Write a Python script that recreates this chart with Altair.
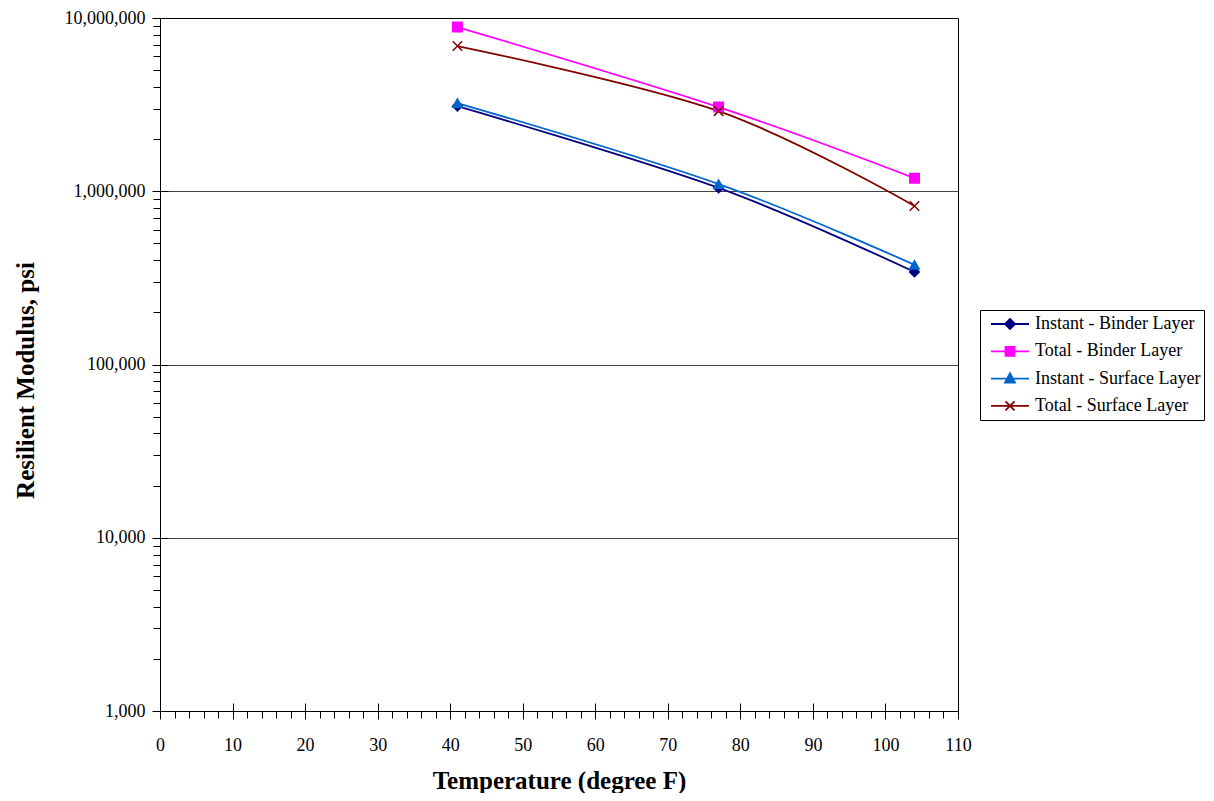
import altair as alt
import pandas as pd

# ---- data ----
temps = [41, 77, 104]
series_names = [
    "Instant - Binder Layer",
    "Total - Binder Layer",
    "Instant - Surface Layer",
    "Total - Surface Layer",
]
instant_binder = [3100000, 1045000, 342000]
total_binder = [8870000, 3060000, 1190000]
instant_surface = [3230000, 1100000, 376000]
total_surface = [6890000, 2900000, 822000]

colors = ["#000080", "#FF00FF", "#0066CC", "#800000"]
shapes = ["diamond", "square", "triangle-up", "M-1,-1L1,1M-1,1L1,-1"]

y_major = [1000, 10000, 100000, 1000000, 10000000]
y_minor = [k * 10 ** e for e in range(3, 7) for k in range(2, 10)]
x_major = list(range(0, 111, 10))
x_minor = list(range(0, 111, 2))

rows = []
for name, vals in zip(series_names, [instant_binder, total_binder, instant_surface, total_surface]):
    for t, v in zip(temps, vals):
        rows.append({"series": name, "temp": t, "value": v})
df = pd.DataFrame(rows)

FONT = "Liberation Serif"

# ---- legend symbols: line through a marker (unit = 19 px) ----
U = 19.0


def f(v):
    return f"{v / U:.3f}"


def hatch(halfwidth_at, y0, y1, step=1.2):
    parts = []
    y = y0
    while y <= y1 + 1e-9:
        w = halfwidth_at(y)
        if w > 0:
            parts.append(f"M{f(-w)},{f(y)}H{f(w)}")
        y += step
    return "".join(parts)


line_part = "M-1,0H1"
diamond_sym = line_part + hatch(lambda y: 5.0 - abs(y), -4.5, 4.5) + \
    f"M0,{f(-5)}L{f(5)},0L0,{f(5)}L{f(-5)},0Z"
square_sym = line_part + hatch(lambda y: 4.5, -4.5, 4.5) + \
    f"M{f(-4.5)},{f(-4.5)}H{f(4.5)}V{f(4.5)}H{f(-4.5)}Z"
triangle_sym = line_part + hatch(lambda y: 5.0 * (y + 5.5) / 9.5, -5.0, 4.0) + \
    f"M0,{f(-5.5)}L{f(5)},{f(4)}H{f(-5)}Z"
cross_sym = line_part + f"M{f(-4.5)},{f(-4.5)}L{f(4.5)},{f(4.5)}M{f(-4.5)},{f(4.5)}L{f(4.5)},{f(-4.5)}"
legend_shapes = [diamond_sym, square_sym, triangle_sym, cross_sym]

x_scale = alt.Scale(domain=[0, 110], nice=False)
y_scale = alt.Scale(type="log", domain=[1000, 10000000], nice=False)

main_x_axis = alt.Axis(
    values=x_major, offset=-8, tickSize=16, domain=False, grid=False,
    labelPadding=17, labelFlush=False, labelFont=FONT, labelFontSize=18,
    labelColor="black", tickColor="black", tickWidth=1,
    title="Temperature (degree F)", titleFont=FONT, titleFontSize=25,
    titleFontWeight="bold", titleColor="black", titleY=85, titleBaseline="alphabetic",
    orient="bottom",
)
main_y_axis = alt.Axis(
    values=y_major, offset=-8, tickSize=16, domain=False, format=",.0f",
    labelPadding=7, labelFont=FONT, labelFontSize=18, labelColor="black",
    tickColor="black", tickWidth=1, grid=True, gridColor="#444444", gridWidth=1,
    gridOpacity={"condition": {"test": "datum.value <= 1000 || datum.value >= 10000000", "value": 0}, "value": 1},
    title="Resilient Modulus, psi", titleFont=FONT, titleFontSize=25,
    titleFontWeight="bold", titleColor="black", titleX=-143, titleY=362,
    titleBaseline="middle", titleAngle=270, orient="left",
)
minor_x_axis = alt.Axis(
    values=x_minor, tickSize=7, domain=False, grid=False, labels=False,
    tickColor="black", tickWidth=1, title=None, orient="bottom",
)
minor_y_axis = alt.Axis(
    values=y_minor, tickSize=7, domain=False, grid=False, labels=False,
    tickColor="black", tickWidth=1, title=None, orient="left",
)

layers = []
for i, (name, shp, col) in enumerate(zip(series_names, shapes, colors)):
    base = alt.Chart(df).transform_filter(alt.datum.series == name)
    layers.append(
        base.mark_line(interpolate="cardinal", strokeWidth=1.8, color=col).encode(
            x=alt.X("temp:Q", scale=x_scale, axis=main_x_axis if i == 0 else None),
            y=alt.Y("value:Q", scale=y_scale, axis=main_y_axis if i == 0 else None),
        )
    )
for name, shp, col in zip(series_names, shapes, colors):
    base = alt.Chart(df).transform_filter(alt.datum.series == name)
    layers.append(
        base.mark_point(filled=True, opacity=1, strokeWidth=1.5, size=90,
                        shape=shp, fill=col, stroke=col).encode(
            x=alt.X("temp:Q", scale=x_scale, axis=None),
            y=alt.Y("value:Q", scale=y_scale, axis=None),
        )
    )

legend_props = dict(
    title=None, orient="none", legendX=820, legendY=292,
    strokeColor="black", padding=3, symbolOffset=7, labelOffset=5,
    clipHeight=22, rowPadding=5.3, symbolSize=1444,
    labelFont=FONT, labelFontSize=18, labelColor="black", labelLimit=400,
    symbolStrokeWidth=1.8, symbolOpacity=1,
)

legend_layer = alt.Chart(df).transform_filter("datum.temp < 0").mark_point(
    filled=False, opacity=1, strokeWidth=1.8, size=1444
).encode(
    x=alt.X("temp:Q", scale=x_scale, axis=minor_x_axis),
    y=alt.Y("value:Q", scale=y_scale, axis=minor_y_axis),
    color=alt.Color("series:N", scale=alt.Scale(domain=series_names, range=colors),
                    legend=alt.Legend(**legend_props)),
    shape=alt.Shape("series:N", scale=alt.Scale(domain=series_names, range=legend_shapes),
                    legend=alt.Legend(**legend_props)),
)
layers.append(legend_layer)

chart = alt.layer(*layers).resolve_axis(
    x="independent", y="independent"
).properties(
    width=798, height=693,
    autosize=alt.AutoSizeParams(type="none"),
    padding={"left": 152, "top": 10, "right": 248, "bottom": 82},
    background="white",
).configure(
    font=FONT
).configure_view(
    stroke="black", strokeWidth=1, fill="white"
).configure_legend(
    labelFont=FONT, labelFontSize=18, labelColor="black", labelLimit=400
)

chart.save("out.html", embed_options={"renderer": "svg", "actions": False})
